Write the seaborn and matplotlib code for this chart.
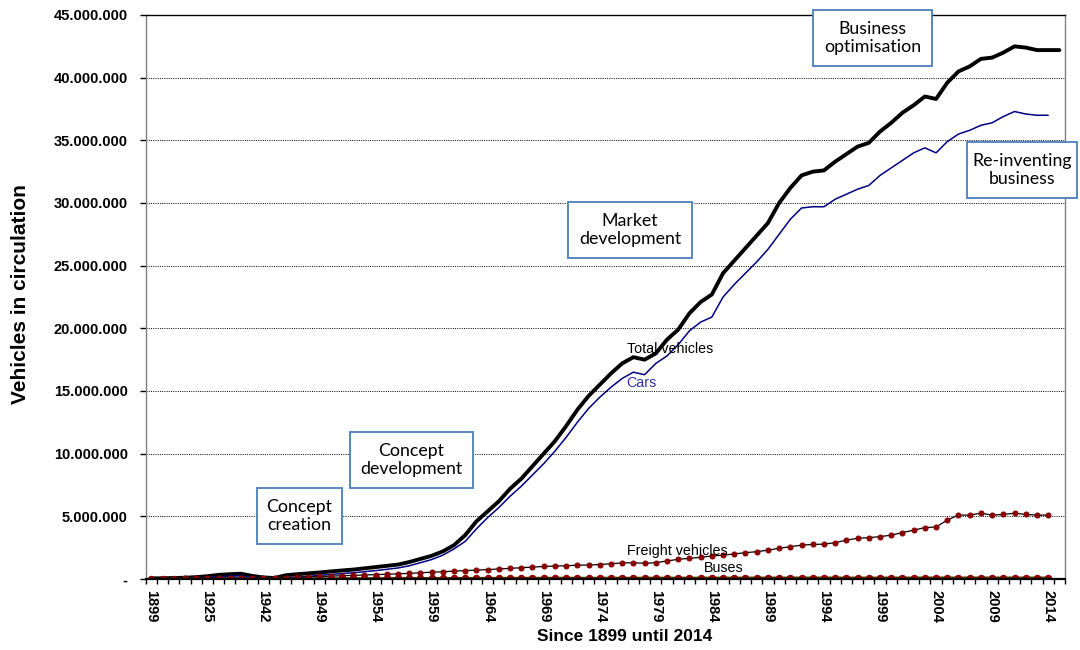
import numpy as np
import pandas as pd
import matplotlib
matplotlib.use("Agg")
import matplotlib.pyplot as plt
from matplotlib.patches import Rectangle
from matplotlib.ticker import FuncFormatter
import seaborn as sns

# Category axis: one slot per survey year (early years are sparse)
years = [1899, 1905, 1910, 1915, 1920, 1925, 1928, 1931, 1934, 1937,
         1942, 1944, 1945, 1946, 1948] + list(range(1949, 2016))
year_tick_labels = ["1899", "1925", "1942", "1949", "1954", "1959", "1964", "1969",
                    "1974", "1979", "1984", "1989", "1994", "1999", "2004", "2009", "2014"]

# Vehicles in circulation, millions
total_m = [0.05, 0.06, 0.08, 0.10, 0.15, 0.22, 0.33, 0.38, 0.42, 0.25,
           0.12, 0.08, 0.30, 0.38, 0.45, 0.52, 0.60, 0.68, 0.75, 0.85,
           0.95, 1.05, 1.15, 1.35, 1.60, 1.85, 2.20, 2.70, 3.50, 4.60,
           5.40, 6.20, 7.20, 8.00, 9.00, 10.0, 11.0, 12.2, 13.5, 14.6,
           15.5, 16.4, 17.2, 17.7, 17.5, 18.0, 19.1, 19.9, 21.2, 22.1,
           22.7, 24.4, 25.4, 26.4, 27.4, 28.4, 30.0, 31.2, 32.2, 32.5,
           32.6, 33.3, 33.9, 34.5, 34.8, 35.7, 36.4, 37.2, 37.8, 38.5,
           38.3, 39.6, 40.5, 40.9, 41.5, 41.6, 42.0, 42.5, 42.4, 42.2,
           42.2, 42.2]

cars_m = [0.01, 0.02, 0.03, 0.05, 0.08, 0.12, 0.18, 0.22, 0.25, 0.15,
          0.08, 0.05, 0.10, 0.15, 0.20, 0.30, 0.36, 0.43, 0.50, 0.58,
          0.67, 0.77, 0.88, 1.05, 1.30, 1.55, 1.90, 2.40, 3.00, 4.00,
          4.90, 5.70, 6.60, 7.40, 8.30, 9.20, 10.2, 11.3, 12.5, 13.6,
          14.5, 15.3, 16.0, 16.5, 16.3, 17.2, 17.8, 18.7, 19.8, 20.5,
          20.9, 22.5, 23.5, 24.4, 25.3, 26.3, 27.5, 28.7, 29.6, 29.7,
          29.7, 30.3, 30.7, 31.1, 31.4, 32.2, 32.8, 33.4, 34.0, 34.4,
          34.0, 34.9, 35.5, 35.8, 36.2, 36.4, 36.9, 37.3, 37.1, 37.0,
          37.0]

freight_m = [0.02, 0.02, 0.03, 0.04, 0.05, 0.06, 0.08, 0.09, 0.10, 0.08,
             0.06, 0.06, 0.10, 0.13, 0.16, 0.20, 0.23, 0.26, 0.29, 0.32,
             0.35, 0.38, 0.41, 0.45, 0.50, 0.54, 0.58, 0.63, 0.67, 0.71,
             0.75, 0.80, 0.85, 0.90, 0.95, 1.00, 1.03, 1.06, 1.10, 1.12,
             1.15, 1.22, 1.28, 1.30, 1.25, 1.30, 1.44, 1.57, 1.65, 1.73,
             1.84, 1.90, 2.00, 2.10, 2.18, 2.30, 2.45, 2.58, 2.70, 2.76,
             2.78, 2.90, 3.10, 3.25, 3.30, 3.38, 3.50, 3.70, 3.90, 4.10,
             4.15, 4.70, 5.10, 5.10, 5.25, 5.10, 5.15, 5.25, 5.15, 5.10,
             5.10]

buses_m = [0.004, 0.005, 0.006, 0.008, 0.010, 0.012, 0.015, 0.018, 0.020, 0.018,
           0.015, 0.015, 0.020, 0.025, 0.030, 0.034, 0.037, 0.040, 0.043, 0.046,
           0.049, 0.052, 0.054, 0.056, 0.058, 0.060, 0.062, 0.064, 0.066, 0.068,
           0.070, 0.072, 0.074, 0.075, 0.076, 0.077, 0.078, 0.079, 0.080, 0.080,
           0.080, 0.081, 0.082, 0.083, 0.084, 0.085, 0.086, 0.087, 0.088, 0.089,
           0.090, 0.091, 0.092, 0.093, 0.094, 0.095, 0.096, 0.097, 0.098, 0.098,
           0.098, 0.097, 0.097, 0.096, 0.095, 0.095, 0.096, 0.097, 0.098, 0.099,
           0.099, 0.100, 0.100, 0.100, 0.100, 0.099, 0.099, 0.099, 0.098, 0.098,
           0.098]

phases = ["Concept\ncreation", "Concept\ndevelopment", "Market\ndevelopment",
          "Business\noptimisation", "Re-inventing\nbusiness"]

sns.set_theme(style="white")
plt.rcParams["font.family"] = ["Liberation Sans", "DejaVu Sans"]

W, H = 1080, 650
fig = plt.figure(figsize=(W / 100, H / 100), dpi=100)
fig.patch.set_facecolor("white")
ax = fig.add_axes([145.7 / W, 71 / H, 919.3 / W, 564 / H])


def frame(values):
    return pd.DataFrame({"slot": np.arange(len(values)),
                         "year": years[:len(values)],
                         "vehicles": np.asarray(values) * 1e6})


sns.lineplot(data=frame(total_m), x="slot", y="vehicles", color="black",
             linewidth=2.8, errorbar=None, ax=ax, legend=False)
sns.lineplot(data=frame(cars_m), x="slot", y="vehicles", color="#000080",
             linewidth=1.1, errorbar=None, ax=ax, legend=False)
sns.lineplot(data=frame(freight_m), x="slot", y="vehicles", color="black",
             linewidth=0.9, marker="o", markersize=3.6, markerfacecolor="#8b0000",
             markeredgecolor="#8b0000", errorbar=None, ax=ax, legend=False)
sns.lineplot(data=frame(buses_m), x="slot", y="vehicles", color="#3f3f00",
             linewidth=1.8, marker="o", markersize=4.6, markerfacecolor="#8b0000",
             markeredgecolor="#8b0000", errorbar=None, ax=ax, legend=False)

# Axes ranges and grid
n_slots = len(years)
ax.set_xlim(-0.5, n_slots - 0.5)
ax.set_ylim(0, 45e6)
ax.set_yticks(np.arange(0, 45e6 + 1, 5e6))
ax.yaxis.set_major_formatter(FuncFormatter(
    lambda v, _: "-" if v == 0 else f"{int(round(v)):,}".replace(",", ".")))
ax.yaxis.grid(True, linestyle=(0, (1, 1.3)), color="black", linewidth=0.7)
ax.xaxis.grid(False)
ax.set_axisbelow(True)

# Category ticks on slot boundaries, year labels centred in every fifth slot
ax.set_xticks(np.arange(-0.5, n_slots, 1.0))
ax.set_xticklabels([])
label_slots = [years.index(int(y)) for y in year_tick_labels]
ax.set_xticks(label_slots, year_tick_labels, minor=True)
ax.tick_params(axis="x", which="major", bottom=True, direction="out", length=3.6,
               width=1.0, color="black")
ax.tick_params(axis="x", which="minor", bottom=True, length=0, pad=8.2,
               labelsize=10.5, labelcolor="black", labelrotation=-90)
ax.tick_params(axis="y", which="major", left=True, direction="out", length=4.3,
               width=1.0, color="black", pad=8.6, labelsize=10.5, labelcolor="black")
for lab in ax.get_xticklabels(minor=True):
    lab.set_verticalalignment("top")
    lab.set_horizontalalignment("center")
    lab.set_fontweight("bold")
for lab in ax.get_yticklabels():
    lab.set_fontweight("bold")

for side, col, lw in [("left", "#808080", 1.0), ("right", "#808080", 1.0),
                      ("top", "black", 1.0), ("bottom", "black", 1.6)]:
    ax.spines[side].set_visible(True)
    ax.spines[side].set_color(col)
    ax.spines[side].set_linewidth(lw)

ax.set_xlabel("Since 1899 until 2014", fontsize=12.5, fontweight="bold", color="black")
ax.xaxis.set_label_coords(0.5214, -0.089)
ax.set_ylabel("Vehicles in circulation", fontsize=15, fontweight="bold", color="black")
ax.yaxis.set_label_coords(-0.126, 0.505)

# Series captions
cap = dict(fontsize=10.3, va="center", ha="left")
ax.text(42.4, 18.35e6, "Total vehicles", color="black", **cap)
ax.text(42.4, 15.64e6, "Cars", color="#3030a8", **cap)
ax.text(42.4, 2.23e6, "Freight vehicles", color="black", **cap)
ax.text(49.3, 0.88e6, "Buses", color="black", **cap)

# Phase call-out boxes (pixel extents: left, right, top, bottom)
box_extents = [(257, 342, 488, 544), (350, 473, 432, 488), (568, 692, 202, 258),
               (813, 932, 10, 66), (967, 1077, 142, 198)]
for text, (x0, x1, y0, y1) in zip(phases, box_extents):
    fig.add_artist(Rectangle((x0 / W, 1 - y1 / H), (x1 - x0) / W, (y1 - y0) / H,
                             transform=fig.transFigure, facecolor="white",
                             edgecolor="#4a7ebb", linewidth=1.3, zorder=5))
    fig.text((x0 + x1) / 2 / W, 1 - (y0 + y1) / 2 / H, text, ha="center", va="center",
             fontsize=12.8, family=["Lato", "DejaVu Sans"], color="black",
             linespacing=1.2, zorder=6)

fig.savefig("out.png", dpi=100, facecolor="white")
